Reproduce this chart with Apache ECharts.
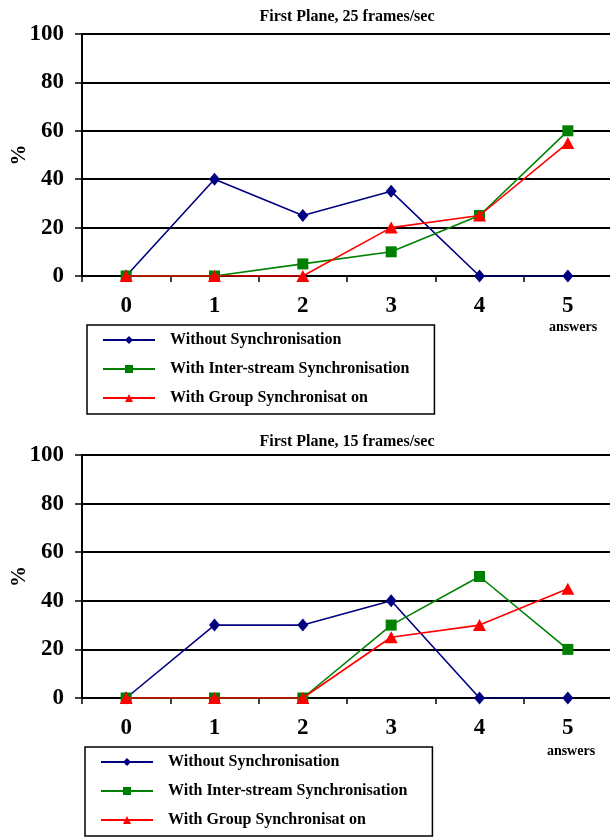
<!DOCTYPE html>
<html><head><meta charset="utf-8">
<script src="https://cdn.jsdelivr.net/npm/echarts@6/dist/echarts.min.js"></script>
<style>html,body{margin:0;padding:0;background:#fff}#c{width:610px;height:840px}</style>
</head><body><div id="c"></div>
<script>
const categories = ['0','1','2','3','4','5'];
const yTicks = [0,20,40,60,80,100];
const seriesNames = ['Without Synchronisation','With Inter-stream Synchronisation','With Group Synchronisat on'];
const titles = ['First Plane, 25 frames/sec','First Plane, 15 frames/sec'];
// chart 1: 25 frames/sec
const without25 = [0,40,25,35,0,0];
const inter25   = [0,0,5,10,25,60];
const group25   = [0,0,0,20,25,55];
// chart 2: 15 frames/sec
const without15 = [0,30,30,40,0,0];
const inter15   = [0,0,0,30,50,20];
const group15   = [0,0,0,25,30,45];

const FONT = 'Liberation Serif';
const colors = ['#000080','#008000','#FF0000'];
const symbols = ['diamond','rect','triangle'];
const symSizes = [[11,13],11,[13,12]];

const grids = [
  {left:82, top:34, height:242, width:530, containLabel:false, outerBoundsMode:'none'},
  {left:82, top:455, height:243, width:530, containLabel:false, outerBoundsMode:'none'}
];
function xAx(i){return {
  type:'category', gridIndex:i, data:categories, boundaryGap:true,
  axisLine:{show:true,lineStyle:{color:'#000',width:2}},
  axisTick:{show:true,interval:0,length:6,lineStyle:{color:'#000',width:1.5}},
  axisLabel:{color:'#000',fontFamily:FONT,fontWeight:'bold',fontSize:23,margin:19,interval:0},
  splitLine:{show:false}
};}
function yAx(i){return {
  type:'value', gridIndex:i, min:yTicks[0], max:yTicks[yTicks.length-1], interval:20,
  name:'%', nameLocation:'middle', nameGap:52, nameRotate:90, nameMoveOverlap:false,
  nameTextStyle:{color:'#000',fontFamily:FONT,fontWeight:'bold',fontSize:21},
  axisLine:{show:true,lineStyle:{color:'#000',width:2}},
  axisTick:{show:true,length:7,lineStyle:{color:'#000',width:1.5}},
  axisLabel:{color:'#000',fontFamily:FONT,fontWeight:'bold',fontSize:23,margin:18},
  splitLine:{show:true,lineStyle:{color:'#000',width:2}}
};}
const data = [[without25,inter25,group25],[without15,inter15,group15]];
const series = [];
for (let g=0; g<2; g++){
  for (let s=0; s<3; s++){
    series.push({
      type:'line', name:seriesNames[s], xAxisIndex:g, yAxisIndex:g,
      data:data[g][s], symbol:symbols[s], symbolSize:symSizes[s],
      itemStyle:{color:colors[s]}, lineStyle:{color:colors[s],width:1.6},
      z: 2+s, animation:false
    });
  }
}
function legend(left, top){return {
  orient:'vertical', left:left, top:top, height:120, data:seriesNames,
  itemWidth:52, itemHeight:10, itemGap:13,
  padding:[7,25,8,15], borderColor:'#000', borderWidth:1.5,
  textStyle:{color:'#000',fontFamily:FONT,fontWeight:'bold',fontSize:16,padding:[0,0,0,10]},
  selectedMode:false
};}
const chart = echarts.init(document.getElementById('c'));
chart.setOption({
  backgroundColor:'#fff',
  animation:false,
  title:[
    {text:titles[0], left:342, top:4, textAlign:'center', textStyle:{color:'#000',fontFamily:FONT,fontWeight:'bold',fontSize:16}},
    {text:titles[1], left:342, top:429, textAlign:'center', textStyle:{color:'#000',fontFamily:FONT,fontWeight:'bold',fontSize:16}},
    {text:'answers', left:568, top:315, textAlign:'center', textStyle:{color:'#000',fontFamily:FONT,fontWeight:'bold',fontSize:14}},
    {text:'answers', left:566, top:739, textAlign:'center', textStyle:{color:'#000',fontFamily:FONT,fontWeight:'bold',fontSize:14}}
  ],
  grid:grids,
  xAxis:[xAx(0),xAx(1)],
  yAxis:[yAx(0),yAx(1)],
  legend:[legend(87,325), legend(85,747)],
  series:series
});
</script></body></html>
